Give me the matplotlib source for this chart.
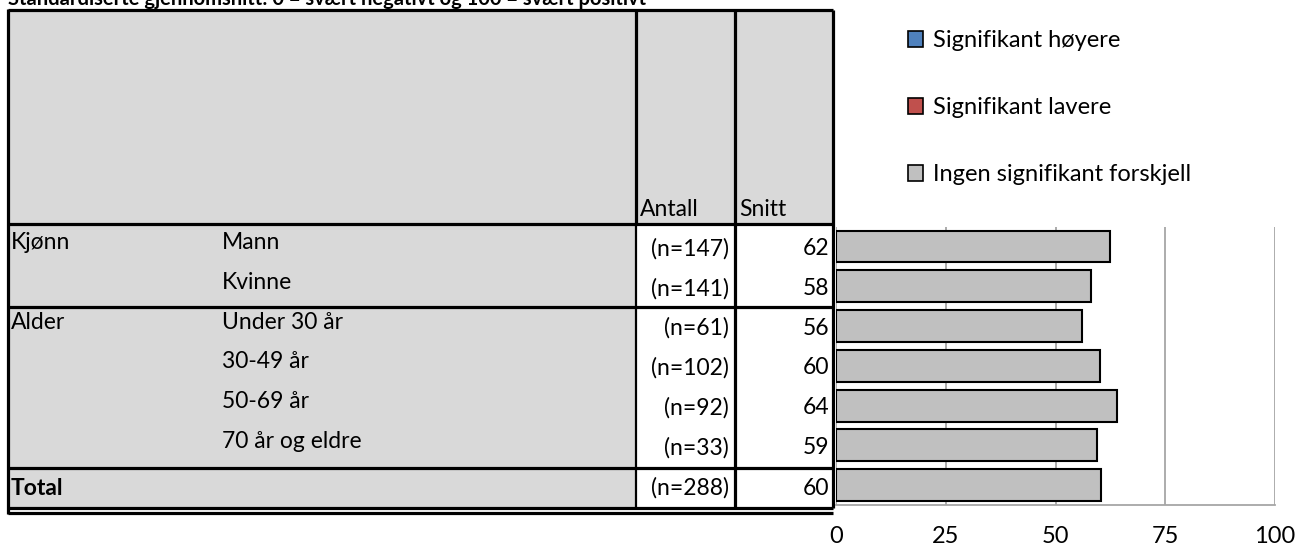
import matplotlib.pyplot as plt
from matplotlib.patches import Patch, Rectangle

# data
groups = ["Kjønn", "", "Alder", "", "", "", "Total"]
categories = ["Mann", "Kvinne", "Under 30 år", "30-49 år", "50-69 år", "70 år og eldre", ""]
counts = [147, 141, 61, 102, 92, 33, 288]
means = [62.4, 58.1, 56.0, 60.1, 64.1, 59.4, 60.4]
ticks = [0, 25, 50, 75, 100]
legend_labels = ["Signifikant høyere", "Signifikant lavere", "Ingen signifikant forskjell"]
legend_colors = ["#4f81bd", "#c0504d", "#c0c0c0"]
title = "Standardiserte gjennomsnitt: 0 = svært negativt og 100 = svært positivt"

plt.rcParams['font.family'] = ['Lato', 'DejaVu Sans']

W, H = 1299, 551
fig = plt.figure(figsize=(W / 100, H / 100), dpi=100)

# overlay axes in pixel coordinates for the table part
ax_t = fig.add_axes([0, 0, 1, 1])
ax_t.set_xlim(0, W)
ax_t.set_ylim(H, 0)
ax_t.axis('off')

# bar chart axes
top_px, bot_px = 226.7, 505
left_px, right_px = 836, 1275
ax = fig.add_axes([left_px / W, 1 - bot_px / H, (right_px - left_px) / W, (bot_px - top_px) / H])
n = len(means)
ypos = list(range(n))
ax.barh(ypos, means, height=0.8, color="#c0c0c0", edgecolor="black", linewidth=1.5, zorder=3)
ax.set_xlim(0, 100)
ax.set_ylim(n - 0.5, -0.5)
ax.set_xticks(ticks)
ax.set_xticklabels([str(t) for t in ticks], fontsize=17)
ax.set_yticks([])
ax.tick_params(axis='x', length=0, pad=15)
ax.grid(axis='x', color="#a6a6a6", linewidth=1.3, zorder=0)
for s in ['top', 'left', 'right']:
    ax.spines[s].set_visible(False)
ax.spines['bottom'].set_color("#a6a6a6")
ax.spines['bottom'].set_linewidth(1.3)
ax.patch.set_alpha(0)

# table geometry
x0, xa, xs, x1 = 8, 636, 735, 833
y_top, y_head = 10, 224
row_h = (bot_px - top_px) / n
gray = "#d9d9d9"
thick = 2.3
fs = 16.5

ax_t.add_patch(Rectangle((x0, y_top), x1 - x0, y_head - y_top, fc=gray, ec='none'))
ax_t.add_patch(Rectangle((x0, y_head), xa - x0, 508 - y_head, fc=gray, ec='none'))

ax_t.text(xa + 4, y_head - 8, "Antall", fontsize=fs, va='baseline', ha='left')
ax_t.text(xs + 4, y_head - 8, "Snitt", fontsize=fs, va='baseline', ha='left')

for i in range(n):
    c = top_px + (i + 0.5) * row_h
    bold = groups[i] == "Total"
    if bold:
        ty = c + 3
        ny = c + 3
    else:
        ty = c - 4
        ny = c + 2
    ax_t.text(x0 + 3, ty, groups[i], fontsize=fs, va='center', ha='left',
              fontweight='bold' if bold else 'normal')
    ax_t.text(222, ty, categories[i], fontsize=fs, va='center', ha='left')
    ax_t.text(xa + 93, ny, f"(n={counts[i]})", fontsize=fs, va='center', ha='right')
    ax_t.text(x1 - 4, ny, f"{round(means[i])}", fontsize=fs, va='center', ha='right')

# lines
def hline(y, lw=thick, xa_=x0, xb=x1):
    ax_t.plot([xa_, xb], [y, y], color='black', lw=lw, solid_capstyle='butt')

def vline(x, ya, yb, lw=thick):
    ax_t.plot([x, x], [ya, yb], color='black', lw=lw, solid_capstyle='butt')

hline(y_top)
hline(y_head)
hline(307)
hline(468)
hline(508)
hline(513)
vline(x0, y_top - 1, 514)
vline(xa, y_top, y_head)
vline(xa, y_head, 508, lw=1.6)
vline(xs, y_top, 508)
vline(x1, y_top, 508)

ax_t.text(x0, 5, title, fontsize=14.5, fontweight='bold', va='baseline', ha='left')

handles = [Patch(facecolor=c, edgecolor='black', linewidth=1.2) for c in legend_colors]
ax_t.legend(handles, legend_labels, loc='upper left', bbox_to_anchor=(908, 30),
            bbox_transform=ax_t.transData, frameon=False, fontsize=17,
            handlelength=0.65, handleheight=0.65, handletextpad=0.4,
            labelspacing=1.95, borderpad=0, borderaxespad=0)

fig.savefig("out.png", dpi=100)
